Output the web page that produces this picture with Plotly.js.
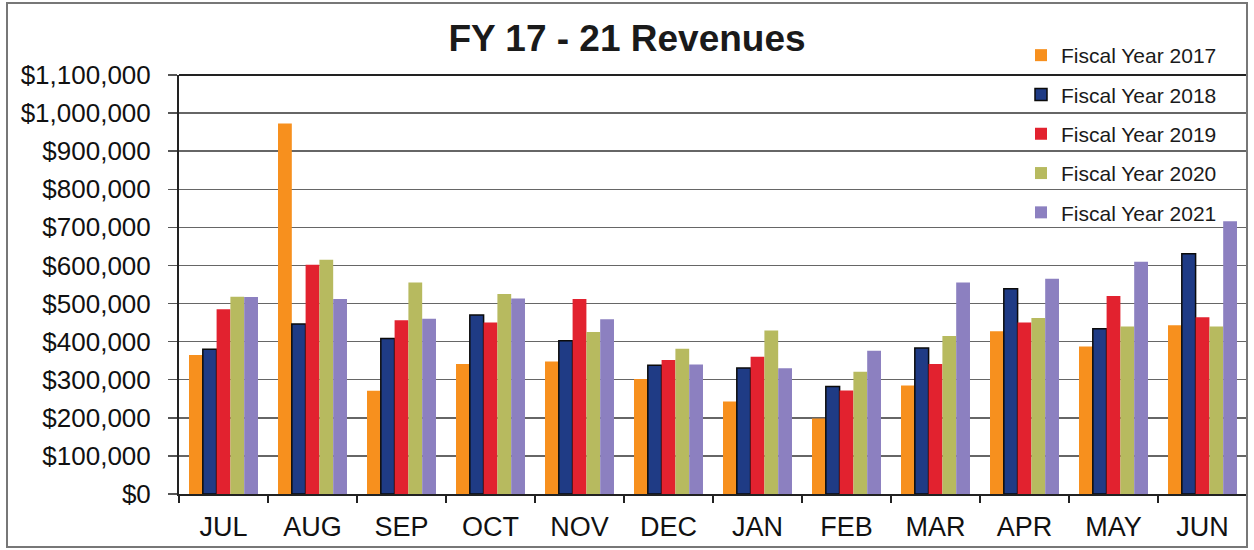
<!DOCTYPE html>
<html>
<head>
<meta charset="utf-8">
<script src="https://cdn.plot.ly/plotly-3.0.1.min.js"></script>
<style>html,body{margin:0;padding:0;background:#fff;}#chart{width:1254px;height:550px;}</style>
</head>
<body>
<div id="chart"></div>
<script>
const months = ["JUL","AUG","SEP","OCT","NOV","DEC","JAN","FEB","MAR","APR","MAY","JUN"];
const seriesNames = ["Fiscal Year 2017","Fiscal Year 2018","Fiscal Year 2019","Fiscal Year 2020","Fiscal Year 2021"];
const fy2017 = [365000, 973000, 271000, 341000, 348000, 302000, 243000, 198000, 285000, 427000, 387000, 443000];
const fy2018 = [380000, 446000, 408000, 470000, 402000, 338000, 331000, 282000, 383000, 539000, 434000, 631000];
const fy2019 = [485000, 602000, 456000, 450000, 512000, 352000, 360000, 272000, 341000, 450000, 520000, 464000];
const fy2020 = [518000, 615000, 555000, 525000, 425000, 381000, 429000, 321000, 415000, 462000, 440000, 440000];
const fy2021 = [517000, 512000, 460000, 513000, 459000, 340000, 330000, 376000, 555000, 565000, 610000, 716000];
const seriesValues = [fy2017, fy2018, fy2019, fy2020, fy2021];
const colors = ["#F7901E", "#1F3B85", "#E2222F", "#B7BA5F", "#8C80C0"];
const lineColors = ["#F7901E", "#0b0b0b", "#E2222F", "#B7BA5F", "#8C80C0"];
const lineWidths = [0, 1.5, 0, 0, 0];

const traces = seriesNames.map((name, i) => ({
  type: "bar",
  name: name,
  x: months,
  y: seriesValues[i],
  legendgroup: "g" + i,
  marker: {color: colors[i], line: {color: lineColors[i], width: lineWidths[i]}}
}));

const W = 1254, H = 550;
const m = {l: 179, r: 7, t: 75, b: 56};
const pw = W - m.l - m.r, ph = H - m.t - m.b;
const px = v => (v - m.l) / pw;
const py = v => (H - m.b - v) / ph;

const layout = {
  width: W, height: H,
  margin: m,
  paper_bgcolor: "#ffffff",
  plot_bgcolor: "#ffffff",
  font: {family: "Liberation Sans, Arial, sans-serif", color: "#111"},
  title: {text: "<b>FY 17 - 21 Revenues</b>", font: {size: 37, color: "#1a1a1a"}, x: 0.5, xref: "container", xanchor: "center", y: 1 - 38 / 550, yref: "container", yanchor: "middle"},
  barmode: "group",
  bargap: 0.225,
  bargroupgap: 0,
  showlegend: true,
  legend: {
    x: px(1021), y: py(35), xanchor: "left", yanchor: "top",
    bgcolor: "rgba(0,0,0,0)",
    font: {size: 21, color: "#1a1a1a"},
    traceorder: "grouped",
    tracegroupgap: 9,
    itemwidth: 30
  },
  xaxis: {
    type: "category",
    showgrid: false,
    showline: true, linecolor: "#222", linewidth: 2,
    ticks: "outside", tickson: "boundaries", ticklen: 7, tickcolor: "#222", tickwidth: 1.5,
    tickfont: {size: 27, color: "#111"},
    ticklabelstandoff: 8,
    fixedrange: true
  },
  yaxis: {
    range: [0, 1100000], dtick: 100000, tick0: 0,
    tickformat: "$,.0f",
    showgrid: true, gridcolor: "#666666", gridwidth: 1.5,
    showline: true, linecolor: "#222", linewidth: 2,
    ticks: "outside", ticklen: 9, tickcolor: "#555", tickwidth: 1.5,
    tickfont: {size: 26, color: "#111"},
    ticklabelstandoff: 12,
    zeroline: false,
    fixedrange: true
  },
  shapes: [
    {type: "line", xref: "paper", yref: "paper", x0: 0, x1: 1, y0: 1, y1: 1, line: {color: "#222", width: 2}},
    {type: "rect", xref: "paper", yref: "paper", x0: px(7), x1: px(1247), y0: py(547), y1: py(3), line: {color: "#777", width: 2}, fillcolor: "rgba(0,0,0,0)", layer: "above"}
  ]
};

Plotly.newPlot("chart", traces, layout, {displayModeBar: false, staticPlot: true});
</script>
</body>
</html>
